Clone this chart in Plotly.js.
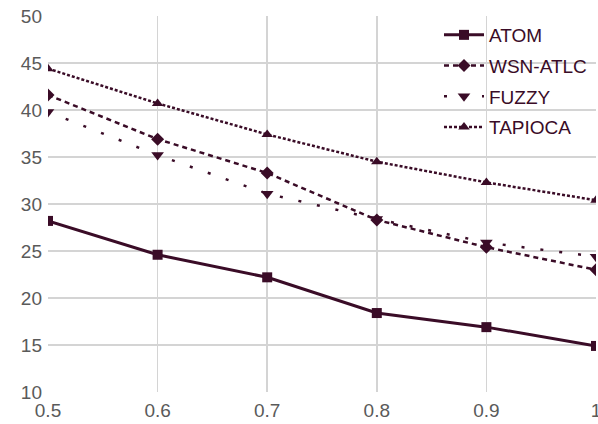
<!DOCTYPE html>
<html>
<head>
<meta charset="utf-8">
<script src="https://cdn.plot.ly/plotly-3.0.1.min.js"></script>
<style>
  html, body { margin: 0; padding: 0; background: #fff; }
  #chart { width: 598px; height: 424px; }
</style>
</head>
<body>
<div id="chart"></div>
<script>
// Ratio values along the x axis
const xValues = [0.5, 0.6, 0.7, 0.8, 0.9, 1.0];
const xTickText = ['0.5', '0.6', '0.7', '0.8', '0.9', '1'];

// Series values
const atom    = [28.2, 24.6, 22.2, 18.4, 16.9, 14.9];
const wsnAtlc = [41.6, 36.9, 33.3, 28.3, 25.4, 23.0];
const fuzzy   = [39.8, 35.2, 31.1, 28.4, 25.9, 24.4];
const tapioca = [44.4, 40.7, 37.4, 34.5, 32.3, 30.4];

const seriesNames = ['ATOM', 'WSN-ATLC', 'FUZZY', 'TAPIOCA'];

const ink = '#3a0c27';

const traces = [
  {
    x: xValues, y: atom, name: seriesNames[0], legendgroup: 'a', mode: 'lines+markers',
    line: { color: ink, width: 3 },
    marker: { symbol: 'square', size: 10, color: ink }
  },
  {
    x: xValues, y: wsnAtlc, name: seriesNames[1], legendgroup: 'b', mode: 'lines+markers',
    line: { color: ink, width: 2.5, dash: '5px,4px' },
    marker: { symbol: 'diamond', size: 10, color: ink }
  },
  {
    x: xValues, y: fuzzy, name: seriesNames[2], legendgroup: 'c', mode: 'lines+markers',
    line: { color: ink, width: 2.5, dash: '3px,16px' },
    marker: { symbol: 'triangle-down', size: 11, color: ink }
  },
  {
    x: xValues, y: tapioca, name: seriesNames[3], legendgroup: 'd', mode: 'lines+markers',
    line: { color: ink, width: 2.5, dash: '3px,2px' },
    marker: { symbol: 'triangle-up', size: 10, color: ink }
  }
];

const tickFont = { family: 'Liberation Sans, Arial, sans-serif', size: 19, color: '#5a5a5a' };

const layout = {
  width: 598,
  height: 424,
  margin: { l: 48, r: 2, t: 16, b: 32 },
  paper_bgcolor: '#ffffff',
  plot_bgcolor: '#ffffff',
  showlegend: true,
  legend: {
    x: 0.7135, y: 1.0, xanchor: 'left', yanchor: 'top',
    bgcolor: 'rgba(0,0,0,0)',
    font: { family: 'Liberation Sans, Arial, sans-serif', size: 19, color: ink },
    tracegroupgap: 3,
    itemwidth: 40
  },
  xaxis: {
    range: [0.5, 1.0],
    tickvals: xValues,
    ticktext: xTickText,
    showgrid: true, gridcolor: '#d4d4d4', gridwidth: 1.5,
    zeroline: false, showline: false, ticks: '',
    ticklabelstandoff: 5,
    ticklabeloverflow: 'allow',
    tickfont: tickFont
  },
  yaxis: {
    range: [10, 50],
    dtick: 5,
    showgrid: true, gridcolor: '#d4d4d4', gridwidth: 1.5,
    zeroline: false, showline: false, ticks: '',
    ticklabelstandoff: 5,
    ticklabeloverflow: 'allow',
    tickfont: tickFont
  }
};

Plotly.newPlot('chart', traces, layout, { displayModeBar: false, staticPlot: true });
</script>
</body>
</html>
